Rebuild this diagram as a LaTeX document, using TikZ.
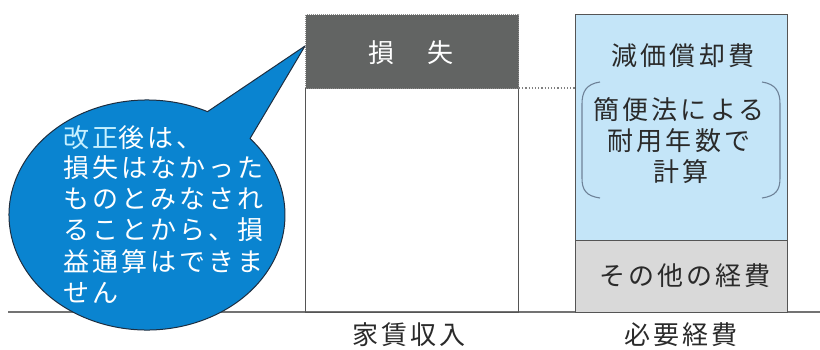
\documentclass[tikz,border=0pt]{standalone}
\usepackage{fontspec}
\usetikzlibrary{calc}
\newfontfamily\jp[LetterSpace=12]{Noto Sans CJK JP}
\newfontfamily\jpn{Noto Sans CJK JP}
\definecolor{bubblue}{HTML}{0A84D0}
\definecolor{bubline}{HTML}{1E2E40}
\definecolor{darkbox}{HTML}{626463}
\definecolor{lightblue}{HTML}{C4E5F8}
\definecolor{lightgray}{HTML}{D9D9D9}
\definecolor{framegray}{HTML}{555555}
\definecolor{textdark}{HTML}{2A2A2A}
\definecolor{hicyan}{HTML}{C6F0FF}
\definecolor{brack}{HTML}{6E8298}
\tikzset{
  bubtext/.style={inner sep=0pt, anchor=west, text=white, font=\jp\fontsize{26}{31}\selectfont},
  boxtext/.style={inner sep=0pt, text=textdark, font=\jp\fontsize{26}{31}\selectfont},
  frame/.style={draw=framegray, line width=1pt},
}
\begin{document}
\begin{tikzpicture}[x=1pt,y=-1pt]
\useasboundingbox (0,0) rectangle (820,349);
% baseline
\coordinate (bl0) at (8,312);
\coordinate (bl1) at (820,312);
\draw[color=black!55, line width=1.5pt] (bl0) -- (bl1);
% left column
\node[frame, minimum width=213pt, minimum height=224pt, inner sep=0pt, anchor=north west] (income) at (305,88) {};
\node[fill=darkbox, draw=black!45, densely dotted, line width=1pt, minimum width=213pt, minimum height=74pt, inner sep=0pt, anchor=north west] (loss) at (305,14) {};
\node[inner sep=0pt, text=white, font=\jpn\fontsize{26}{31}\selectfont] (losstxt) at (411,53) {損\hspace{1.3em}失};
% right column
\node[frame, fill=lightblue, minimum width=212pt, minimum height=226pt, inner sep=0pt, anchor=north west] (depr) at (575,14) {};
\node[frame, fill=lightgray, minimum width=212pt, minimum height=72pt, inner sep=0pt, anchor=north west] (other) at (575,240) {};
\draw[black!50, dotted, line width=1.2pt] (income.north east) -- (depr.west |- income.north east);
% brackets
\draw[brack, line width=1.1pt] (600,82) .. controls (586,84) and (582,92) .. (582,104) -- (582,178) .. controls (582,190) and (586,196) .. (600,198);
\draw[brack, line width=1.1pt] (762,82) .. controls (776,84) and (780,92) .. (780,104) -- (780,178) .. controls (780,190) and (776,196) .. (762,198);
% right texts
\node[boxtext] (t1) at (683,56) {減価償却費};
\node[boxtext] (t2) at (679,110) {簡便法による};
\node[boxtext] (t3) at (679,141) {耐用年数で};
\node[boxtext] (t4) at (681,172) {計算};
\node[boxtext] (t5) at (685,276) {その他の経費};
% axis labels
\node[boxtext] (lab1) at (409,335) {家賃収入};
\node[boxtext] (lab2) at (681,335) {必要経費};
% bubble
\coordinate (tip) at (305,46);
\draw[fill=bubblue, draw=bubline, line width=1pt, line join=round]
  ($(147,215)+({138*cos(-41.7)},{115*sin(-41.7)})$) -- (tip) --
  ($(147,215)+({138*cos(-64)},{115*sin(-64)})$)
  arc[start angle=-64, end angle=-401.7, x radius=138, y radius=115] -- cycle;
\node[bubtext] (b1) at (63,138) {\textcolor{hicyan}{改正}後は、};
\node[bubtext] (b2) at (63,168) {損失はなかった};
\node[bubtext] (b3) at (63,199) {ものとみなされ};
\node[bubtext] (b4) at (63,230) {ることから、損};
\node[bubtext] (b5) at (63,262) {益通算はできま};
\node[bubtext] (b6) at (63,293) {せん};
\end{tikzpicture}
\end{document}
